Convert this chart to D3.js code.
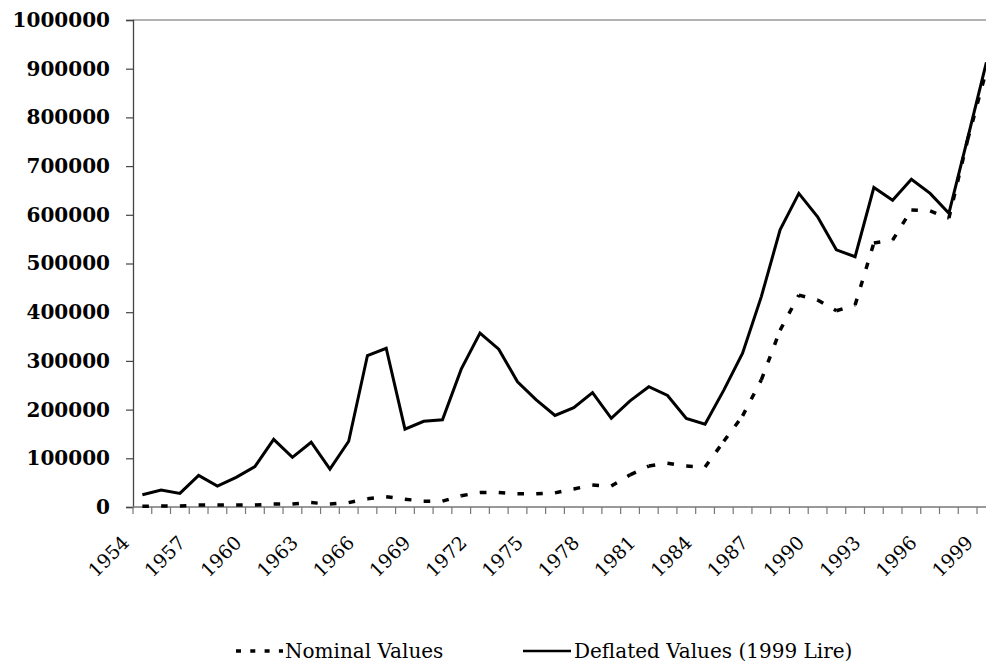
<!DOCTYPE html>
<html>
<head>
<meta charset="utf-8">
<script src="https://cdn.jsdelivr.net/npm/d3@7"></script>
<style>
  body { margin: 0; background: #fff; }
  svg { display: block; }
  .ylab text { font-family: "DejaVu Serif", serif; font-weight: bold; font-size: 20px; fill: #000; }
  .xlab text { font-family: "DejaVu Serif", serif; font-size: 19px; fill: #000; }
  .legend text { font-family: "DejaVu Serif", serif; font-size: 20px; fill: #000; }
</style>
</head>
<body>
<svg id="chart"></svg>
<script>
var years = [1954, 1955, 1956, 1957, 1958, 1959, 1960, 1961, 1962, 1963,
             1964, 1965, 1966, 1967, 1968, 1969, 1970, 1971, 1972, 1973,
             1974, 1975, 1976, 1977, 1978, 1979, 1980, 1981, 1982, 1983,
             1984, 1985, 1986, 1987, 1988, 1989, 1990, 1991, 1992, 1993,
             1994, 1995, 1996, 1997, 1998, 1999];

var nominal = [1500, 2000, 2000, 4000, 4000, 4000, 4000, 6000, 6000, 9000,
               6000, 9000, 17000, 21000, 16000, 12000, 12000, 23000, 30000, 30000,
               27000, 27000, 29000, 37000, 45000, 43000, 66000, 84000, 90000, 84000,
               82000, 135000, 187000, 261000, 363000, 435000, 425000, 403000, 415000, 542000,
               548000, 610000, 608000, 593000, 754000, 897000];

var deflated = [25000, 35000, 28000, 65000, 43000, 61000, 83000, 139000, 102000, 133000,
                78000, 135000, 311000, 326000, 160000, 176000, 179000, 283000, 357000, 324000,
                257000, 220000, 188000, 204000, 235000, 182000, 218000, 247000, 229000, 182000,
                170000, 240000, 316000, 432000, 569000, 644000, 596000, 528000, 514000, 656000,
                630000, 673000, 644000, 603000, 757000, 913000];

var yTicks = [0, 100000, 200000, 300000, 400000, 500000, 600000, 700000, 800000, 900000, 1000000];
var xLabelYears = [1954, 1957, 1960, 1963, 1966, 1969, 1972, 1975, 1978, 1981, 1984, 1987, 1990, 1993, 1996, 1999];

var seriesNames = ["Nominal Values", "Deflated Values (1999 Lire)"];

var width = 986, height = 662;
var mLeft = 133, mTop = 20, mBottom = 507;
var band = 18.756;

var svg = d3.select("#chart").attr("width", width).attr("height", height);

var x = d3.scaleBand()
    .domain(years)
    .range([mLeft, mLeft + band * years.length]);

var y = d3.scaleLinear()
    .domain([0, 1000000])
    .range([mBottom, mTop]);

function cx(d) { return x(d) + x.bandwidth() / 2; }

// top gridline
svg.append("line")
    .attr("x1", mLeft).attr("x2", width)
    .attr("y1", y(1000000)).attr("y2", y(1000000))
    .attr("stroke", "#999").attr("stroke-width", 1.3);

// y axis
var yAxis = svg.append("g")
    .attr("class", "ylab")
    .attr("transform", "translate(" + mLeft + ",0)")
    .call(d3.axisLeft(y).tickValues(yTicks).tickSize(7).tickPadding(16).tickFormat(d3.format("d")));
yAxis.select(".domain").attr("stroke", "#444").attr("stroke-width", 1.3);
yAxis.selectAll(".tick line").attr("stroke", "#444").attr("stroke-width", 1.2);

// x axis line + ticks between the years
svg.append("line")
    .attr("x1", mLeft).attr("x2", width)
    .attr("y1", mBottom).attr("y2", mBottom)
    .attr("stroke", "#777").attr("stroke-width", 1.3);

svg.selectAll(".btick")
    .data(years)
  .enter().append("line")
    .attr("class", "btick")
    .attr("x1", function(d) { return x(d); })
    .attr("x2", function(d) { return x(d); })
    .attr("y1", mBottom).attr("y2", mBottom + 7)
    .attr("stroke", "#777").attr("stroke-width", 1.2);

// x labels
var xAxis = svg.append("g")
    .attr("class", "xlab")
    .attr("transform", "translate(0," + mBottom + ")")
    .call(d3.axisBottom(x).tickValues(xLabelYears).tickSize(0).tickFormat(d3.format("d")));
xAxis.select(".domain").remove();
xAxis.selectAll(".tick text")
    .attr("text-anchor", "end")
    .attr("dy", 0)
    .attr("y", 0)
    .attr("transform", "translate(-12,37) rotate(-45)");

// nominal, dashed; the pattern restarts at each point
var segLine = d3.line().x(function(d) { return d[0]; }).y(function(d) { return d[1]; });
var pts = years.map(function(d, i) { return [cx(d), y(nominal[i])]; });
svg.selectAll(".nom")
    .data(d3.pairs(pts))
  .enter().append("path")
    .attr("class", "nom")
    .attr("d", segLine)
    .attr("fill", "none")
    .attr("stroke", "#000")
    .attr("stroke-width", 3.5)
    .attr("stroke-dasharray", "6.5,12.25");

// deflated, solid
var line = d3.line()
    .x(function(d) { return cx(d); })
    .y(function(d, i) { return y(deflated[i]); });

svg.append("path")
    .datum(years)
    .attr("d", line)
    .attr("fill", "none")
    .attr("stroke", "#000")
    .attr("stroke-width", 3)
    .attr("stroke-linejoin", "miter");

// legend
var legend = svg.append("g").attr("class", "legend");
legend.append("line")
    .attr("x1", 236).attr("x2", 283).attr("y1", 651).attr("y2", 651)
    .attr("stroke", "#000").attr("stroke-width", 3.5)
    .attr("stroke-dasharray", "5,9.3");
legend.append("text")
    .attr("x", 285).attr("y", 658)
    .text(seriesNames[0]);
legend.append("line")
    .attr("x1", 523).attr("x2", 571).attr("y1", 651).attr("y2", 651)
    .attr("stroke", "#000").attr("stroke-width", 2.5);
legend.append("text")
    .attr("x", 574).attr("y", 658)
    .text(seriesNames[1]);
</script>
</body>
</html>
